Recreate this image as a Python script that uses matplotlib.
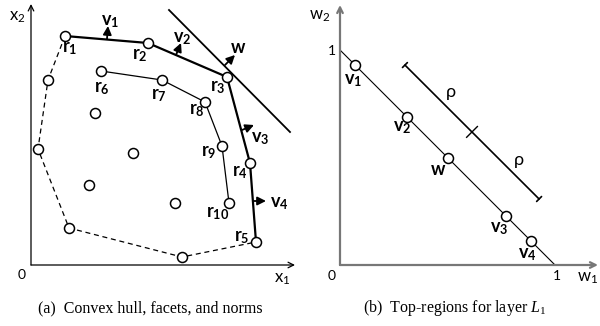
import numpy as np
import matplotlib.pyplot as plt

plt.rcParams['mathtext.fontset'] = 'custom'
plt.rcParams['mathtext.rm'] = 'Liberation Serif'
plt.rcParams['mathtext.it'] = 'Liberation Serif:italic'
plt.rcParams['mathtext.bf'] = 'Lato:bold'
plt.rcParams['mathtext.sf'] = 'Lato'

# ---- panel (a): points in x1/x2 space ----
hull_top = {'r1': (34, 229), 'r2': (117, 222), 'r3': (196, 188), 'r4': (219, 102), 'r5': (225, 23)}
inner = {'r6': (70, 194), 'r7': (131, 185), 'r8': (174, 163), 'r9': (191, 119), 'r10': (198, 62)}
hull_rest = [(17, 185), (7, 116), (38, 37), (151, 8)]
interior = [(64, 152), (102, 112), (58, 80), (144, 62)]
tangent = [(138, 255), (259, 133)]
r_label_pos = {'r1': (39, 217), 'r2': (109, 210), 'r3': (187, 178), 'r4': (209, 93), 'r5': (211, 28),
               'r6': (71, 177), 'r7': (128, 170), 'r8': (166, 155), 'r9': (178, 113), 'r10': (187, 52)}
norms = {'v1': ((76, 226), (77, 239), (79, 244)),
         'v2': ((145, 210), (150, 222), (151, 227)),
         'w': ((194, 200), (204, 210), (207, 217)),
         'v3': ((211, 135), (223, 140), (229, 127)),
         'v4': ((222, 64), (235, 64), (248, 62))}

# ---- panel (b): weight space ----
v_w1 = {'v1': 0.07, 'v2': 0.31, 'w': 0.50, 'v3': 0.77, 'v4': 0.89}
v_label_pos = {'v1': (0.06, 0.86), 'v2': (0.29, 0.64), 'w': (0.456, 0.44), 'v3': (0.74, 0.17), 'v4': (0.87, 0.05)}
rho_seg = [(0.302, 0.930), (0.926, 0.307)]
rho_mid = (0.614, 0.619)
rho_label_pos = [(0.516, 0.805), (0.833, 0.488)]

fig = plt.figure(figsize=(6, 3.26), dpi=100)

def lab(name):
    if name == 'w':
        return r'$\mathbf{w}$'
    return r'$\mathbf{%s}_\mathbf{%s}$' % (name[0], name[1:])

# panel (a)
ax = fig.add_axes([31/600, 61/326, 264/600, 261/326])
ax.set_xlim(0, 264)
ax.set_ylim(0, 261)
ax.axis('off')
ax.annotate('', xy=(264, 0), xytext=(0, 0), arrowprops=dict(arrowstyle='->', lw=0.9, color='black', shrinkA=0, shrinkB=0))
ax.annotate('', xy=(0, 261), xytext=(0, 0), arrowprops=dict(arrowstyle='->', lw=0.9, color='black', shrinkA=0, shrinkB=0))

tx, ty = zip(*tangent)
ax.plot(tx, ty, color='black', lw=1.3)
hx, hy = zip(*hull_top.values())
ax.plot(hx, hy, color='black', lw=1.6)
ix, iy = zip(*inner.values())
ax.plot(ix, iy, color='black', lw=0.9)
dash = [hull_top['r1']] + hull_rest + [hull_top['r5']]
dx, dy = zip(*dash)
ax.plot(dx, dy, color='black', lw=0.9, ls=(0, (4, 3)))

allpts = list(hull_top.values()) + list(inner.values()) + hull_rest + interior
px, py = zip(*allpts)
ax.plot(px, py, 'o', ms=7.2, mfc='white', mec='black', mew=1.1, ls='none', zorder=5)

for name, (x, y) in r_label_pos.items():
    ax.text(x, y, lab(name), fontsize=13, ha='center', va='center')
for name, (s, e, l) in norms.items():
    ax.annotate('', xy=e, xytext=s, arrowprops=dict(arrowstyle='-|>,head_length=0.5,head_width=0.25', lw=1.3, color='black', shrinkA=0, shrinkB=0))
    ax.text(l[0], l[1], lab(name), fontsize=13, ha='center', va='center')

fig.text(17/600, 1-16/326, r'$\mathsf{x}_\mathsf{2}$', fontsize=12, ha='center', va='center')
fig.text(282/600, 1-278/326, r'$\mathsf{x}_\mathsf{1}$', fontsize=12, ha='center', va='center')
fig.text(22/600, 1-275/326, '0', family='Lato', fontsize=10, ha='center', va='center')

# panel (b)
s = 215
bx = fig.add_axes([340/600, 61/326, 258/600, 260/326])
bx.set_xlim(0, 258/s)
bx.set_ylim(0, 260/s)
bx.axis('off')
gray = '#777777'
bx.annotate('', xy=(258/s, 0), xytext=(0, 0), arrowprops=dict(arrowstyle='->', lw=1.6, color=gray, shrinkA=0, shrinkB=0))
bx.annotate('', xy=(0, 260/s), xytext=(0, 0), arrowprops=dict(arrowstyle='->', lw=1.6, color=gray, shrinkA=0, shrinkB=0))
bx.plot([0, 1], [1, 0], color='black', lw=0.8)
w1 = np.array(list(v_w1.values()))
bx.plot(w1, 1 - w1, 'o', ms=7.2, mfc='white', mec='black', mew=1.1, ls='none', zorder=5)
for name, (x, y) in v_label_pos.items():
    bx.text(x, y, lab(name), fontsize=13, ha='center', va='center')

bx.annotate('', xy=rho_seg[1], xytext=rho_seg[0],
            arrowprops=dict(arrowstyle='|-|,widthA=0.25,widthB=0.25', lw=1.2, color='black', shrinkA=0, shrinkB=0))
d = np.array([1, 1]) * 0.025
bx.plot([rho_mid[0] - d[0], rho_mid[0] + d[0]], [rho_mid[1] - d[1], rho_mid[1] + d[1]], color='black', lw=1.0)
for (x, y) in rho_label_pos:
    bx.text(x, y, 'ρ', family=['Lato', 'DejaVu Sans'], fontsize=13, ha='center', va='center')

fig.text(332/600, 1-51/326, '1', family='Lato', fontsize=10, ha='center', va='center')
fig.text(332/600, 1-276/326, '0', family='Lato', fontsize=10, ha='center', va='center')
fig.text(557/600, 1-276/326, '1', family='Lato', fontsize=10, ha='center', va='center')
fig.text(320/600, 1-15/326, r'$\mathsf{w}_\mathsf{2}$', fontsize=12, ha='center', va='center')
fig.text(588/600, 1-277/326, r'$\mathsf{w}_\mathsf{1}$', fontsize=12, ha='center', va='center')

# captions
fig.text(150/600, 1-308/326, '(a)  Convex hull, facets, and norms', family='Liberation Serif', fontsize=11.5, ha='center', va='center')
fig.text(455/600, 1-308/326, r'(b)  Top-regions for layer $L_1$', family='Liberation Serif', fontsize=11.5, ha='center', va='center')

fig.savefig('out.png', dpi=100)
